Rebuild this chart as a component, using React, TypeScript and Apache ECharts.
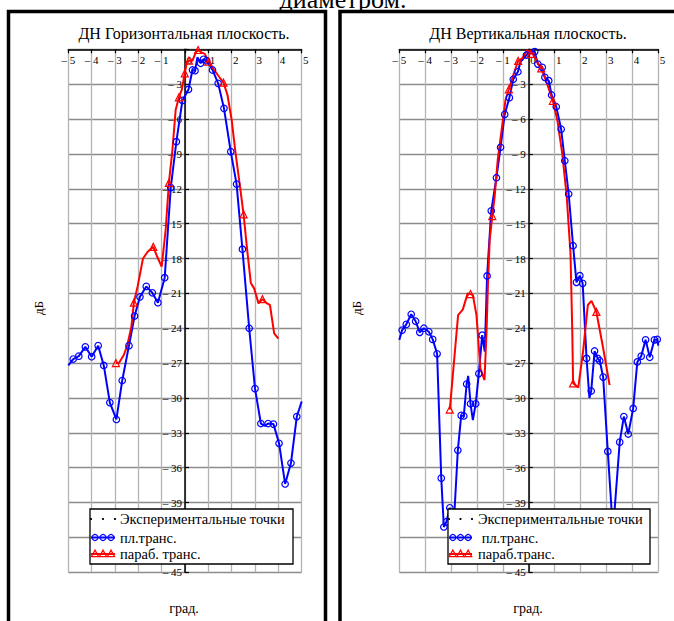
import React, { useEffect, useRef } from 'react';
import * as echarts from 'echarts';

// axis ranges
const X_MIN = -5;
const X_MAX = 5;
const X_STEP = 1;
const Y_MIN = -45;
const Y_MAX = 0;
const Y_STEP = 3;
// tick values whose labels sit under the legend box in the reference
const HIDDEN_Y_LABELS = [0, -42];

// [angle (deg), level (dB), marker 1/0]
const horizPlane: number[][] = [
  [-5.0, -27.2, 0], [-4.79, -26.65, 1], [-4.55, -26.4, 1], [-4.27, -25.6, 1], [-4.0, -26.45, 1],
  [-3.72, -25.5, 1], [-3.48, -27.2, 1], [-3.22, -30.4, 1], [-2.94, -31.85, 1], [-2.69, -28.5, 1],
  [-2.4, -25.5, 1], [-2.16, -22.95, 1], [-1.93, -21.3, 1], [-1.66, -20.4, 1], [-1.4, -20.95, 1],
  [-1.16, -21.8, 1], [-0.87, -19.65, 1], [-0.61, -11.9, 1], [-0.37, -7.95, 1], [-0.11, -4.4, 1],
  [0.15, -3.45, 1], [0.32, -1.78, 1], [0.43, -1.84, 1], [0.53, -0.69, 0], [0.67, -1.2, 1],
  [0.79, -0.86, 1], [0.93, -0.98, 1], [1.18, -1.78, 1], [1.42, -2.93, 1], [1.67, -5.08, 1],
  [1.96, -8.8, 1], [2.21, -11.6, 1], [2.46, -17.2, 1], [2.75, -24.0, 1], [3.0, -29.2, 1],
  [3.25, -32.2, 1], [3.42, -32.4, 0], [3.56, -32.2, 1], [3.79, -32.25, 1], [4.03, -33.9, 1],
  [4.29, -37.4, 1], [4.54, -35.6, 1], [4.79, -31.6, 1], [5.0, -30.3, 0],
];

const horizParab: number[][] = [
  [-2.96, -27.0, 1], [-2.83, -27.0, 0], [-2.62, -26.3, 0], [-2.47, -25.45, 0], [-2.3, -23.9, 0],
  [-2.19, -21.8, 1], [-2.03, -20.4, 0], [-1.8, -18.0, 0], [-1.59, -17.4, 0], [-1.36, -17.0, 1],
  [-1.19, -17.85, 0], [-1.0, -18.7, 0], [-0.83, -15.55, 0], [-0.69, -11.5, 1], [-0.54, -8.67, 0],
  [-0.4, -5.22, 0], [-0.26, -4.13, 1], [-0.14, -3.5, 0], [-0.01, -2.07, 1], [0.07, -1.2, 0],
  [0.17, -0.98, 1], [0.32, -0.98, 0], [0.46, -0.29, 0], [0.56, -0.06, 1], [0.72, -0.29, 0],
  [0.85, -0.4, 0], [1.0, -1.07, 1], [1.25, -1.78, 0], [1.46, -2.36, 0], [1.65, -2.87, 1],
  [1.82, -3.93, 0], [2.0, -6.08, 0], [2.15, -8.67, 0], [2.32, -11.25, 0], [2.51, -14.2, 1],
  [2.65, -17.0, 0], [2.82, -20.1, 0], [2.96, -20.57, 0], [3.15, -21.86, 0], [3.32, -21.5, 1],
  [3.51, -21.86, 0], [3.64, -22.0, 0], [3.82, -24.44, 0], [4.0, -24.9, 0],
];

const vertPlane: number[][] = [
  [-5.0, -25.0, 0], [-4.89, -24.16, 1], [-4.73, -23.67, 1], [-4.54, -22.8, 1], [-4.37, -23.4, 1],
  [-4.21, -24.35, 1], [-4.05, -24.0, 1], [-3.86, -24.3, 1], [-3.71, -24.96, 1], [-3.54, -26.2, 1],
  [-3.38, -36.9, 1], [-3.28, -41.1, 1], [-3.18, -40.65, 1], [-3.05, -39.45, 1], [-2.9, -41.0, 0],
  [-2.74, -34.5, 1], [-2.61, -31.5, 1], [-2.51, -31.55, 1], [-2.4, -28.8, 1], [-2.34, -28.1, 0],
  [-2.25, -30.5, 1], [-2.16, -31.9, 0], [-2.05, -30.5, 1], [-1.93, -27.9, 1], [-1.8, -24.6, 1],
  [-1.7, -26.0, 0], [-1.61, -19.5, 1], [-1.45, -13.9, 1], [-1.25, -11.05, 1], [-1.09, -8.43, 1],
  [-0.93, -5.6, 1], [-0.75, -4.16, 1], [-0.6, -2.58, 1], [-0.42, -1.93, 1], [-0.32, -1.07, 0],
  [-0.09, -0.49, 1], [0.07, -0.12, 0], [0.23, -0.2, 1], [0.35, -1.27, 1], [0.52, -1.55, 1],
  [0.62, -2.41, 1], [0.77, -2.7, 1], [0.88, -3.93, 1], [1.06, -4.94, 1], [1.25, -6.88, 1],
  [1.39, -9.59, 1], [1.54, -12.45, 1], [1.71, -16.9, 1], [1.84, -20.05, 1], [1.97, -19.48, 1],
  [2.08, -20.14, 1], [2.23, -26.6, 1], [2.34, -30.0, 0], [2.41, -29.4, 1], [2.54, -25.96, 1],
  [2.66, -26.6, 1], [2.74, -26.8, 1], [2.87, -28.2, 1], [3.05, -34.6, 1], [3.25, -41.5, 0],
  [3.51, -33.8, 1], [3.67, -31.6, 1], [3.84, -33.1, 1], [4.03, -30.9, 1], [4.19, -26.9, 1],
  [4.34, -26.4, 1], [4.51, -25.0, 1], [4.67, -26.5, 1], [4.85, -25.0, 1], [4.96, -24.96, 1],
  [5.0, -25.5, 0],
];

const vertParab: number[][] = [
  [-3.05, -31.0, 1], [-2.73, -22.87, 0], [-2.55, -22.4, 0], [-2.36, -21.0, 0], [-2.25, -21.06, 1],
  [-2.16, -21.15, 0], [-2.02, -22.87, 0], [-1.87, -27.45, 0], [-1.71, -28.46, 0], [-1.63, -24.2, 0],
  [-1.58, -20.4, 0], [-1.51, -16.4, 0], [-1.41, -14.35, 1], [-1.32, -12.7, 0], [-1.2, -9.5, 0],
  [-1.05, -6.95, 0], [-0.9, -4.36, 0], [-0.77, -3.44, 1], [-0.62, -2.36, 0], [-0.41, -1.0, 1],
  [-0.25, -0.77, 0], [-0.06, -0.06, 0], [0.07, -0.4, 1], [0.17, -0.29, 0], [0.32, -1.07, 0],
  [0.48, -1.64, 1], [0.68, -2.79, 0], [0.93, -4.45, 1], [1.1, -6.08, 0], [1.29, -8.95, 0],
  [1.46, -12.54, 0], [1.61, -17.56, 0], [1.68, -24.4, 0], [1.71, -28.74, 1], [1.91, -29.1, 0],
  [2.1, -25.9, 0], [2.28, -22.0, 0], [2.42, -21.64, 0], [2.61, -22.6, 1], [2.87, -25.7, 0],
  [3.12, -28.9, 0],
];

const topText = 'диаметром.';
const titles = ['ДН Горизонтальная плоскость.', 'ДН Вертикальная плоскость.'];
const yName = 'дБ';
const xName = 'град.';
const legendLabels = [
  ['Экспериментальные точки', 'пл.транс.', 'параб. транс.'],
  ['Экспериментальные точки', ' пл.транс.', 'параб.транс.'],
];

const SERIF = '"Liberation Serif", "Times New Roman", serif';
const BLUE = '#0000ff';
const RED = '#ff0000';

function xLabel(v: number) {
  if (v < 0) return '\u2013\u00a0' + Math.abs(v);
  return '\u2002\u00a0' + v;
}
function yLabel(v: number) {
  return HIDDEN_Y_LABELS.includes(v) ? '' : '\u2013\u00a0' + Math.abs(v);
}

const grids = [
  { left: 68.3, top: 49.3, width: 233.4, height: 523 },
  { left: 399.3, top: 49.3, width: 259, height: 523 },
];

function makeX(gridIndex: number) {
  return {
    type: 'value', gridIndex, min: X_MIN, max: X_MAX, interval: X_STEP, position: 'top',
    axisLine: { show: true, onZero: false, lineStyle: { color: '#000', width: 1.5 } },
    axisTick: { show: true, inside: true, length: 4, lineStyle: { color: '#000', width: 1.2 } },
    axisLabel: { inside: true, margin: 5, formatter: xLabel, color: '#000', fontFamily: SERIF, fontSize: 11 },
    splitLine: { show: true, lineStyle: { color: '#b4b4b4', width: 1.3 } },
  };
}
function makeY(gridIndex: number) {
  // place the y axis on the x = 0 line of its grid
  const w = grids[gridIndex].width;
  const off = -w * (0 - X_MIN) / (X_MAX - X_MIN);
  return {
    type: 'value', gridIndex, min: Y_MIN, max: Y_MAX, interval: Y_STEP, position: 'left', offset: off,
    axisLine: { show: true, onZero: false, lineStyle: { color: '#000', width: 1.5 } },
    axisTick: { show: true, inside: true, length: 4, lineStyle: { color: '#000', width: 1.2 } },
    axisLabel: { margin: 3, formatter: yLabel, color: '#000', fontFamily: SERIF, fontSize: 11 },
    splitLine: { show: true, lineStyle: { color: '#8c8c8c', width: 1.3 } },
  };
}

function makeSeries(data: number[][], idx: number, color: string, sym: string) {
  return {
    type: 'line', xAxisIndex: idx, yAxisIndex: idx,
    data: data.map(([x, y, m]) => ({ value: [x, y], symbol: m ? sym : 'none' })),
    symbol: sym, symbolSize: sym === 'circle' ? 6.5 : 7, showSymbol: true,
    lineStyle: { color, width: 2 },
    itemStyle: { color: 'rgba(255,255,255,0)', borderColor: color, borderWidth: 1.2 },
    silent: true,
  };
}

function triPoints(cx: number, cy: number, s: number) {
  return [[cx, cy - s * 0.6], [cx + s * 0.55, cy + s * 0.4], [cx - s * 0.55, cy + s * 0.4]];
}

function legendGraphic(bx: number, bw: number, dots: number[], textX: number[], labels: string[]) {
  const by = 509, bh = 55;
  const rows = [519, 537.5, 554];
  const els: any[] = [];
  els.push({ type: 'rect', shape: { x: bx, y: by, width: bw, height: bh }, style: { fill: '#fff', stroke: '#000', lineWidth: 1.3 }, z: 100 });
  dots.forEach((dx) => els.push({ type: 'circle', shape: { cx: dx, cy: rows[0], r: 1.1 }, style: { fill: '#000' }, z: 101 }));
  const lx0 = dots[0], lx1 = dots[2];
  els.push({ type: 'line', shape: { x1: lx0, y1: rows[1], x2: lx1, y2: rows[1] }, style: { stroke: BLUE, lineWidth: 2 }, z: 101 });
  els.push({ type: 'line', shape: { x1: lx0, y1: rows[2], x2: lx1, y2: rows[2] }, style: { stroke: RED, lineWidth: 2 }, z: 101 });
  const step = (lx1 - lx0) / 3;
  for (let i = 0; i < 3; i++) {
    const cx = lx0 + step * (i + 0.5);
    els.push({ type: 'circle', shape: { cx, cy: rows[1], r: 3 }, style: { fill: 'none', stroke: BLUE, lineWidth: 1.2 }, z: 102 });
    els.push({ type: 'polygon', shape: { points: triPoints(cx, rows[2], 6.5) }, style: { fill: 'none', stroke: RED, lineWidth: 1.2 }, z: 102 });
  }
  labels.forEach((t, i) => els.push({
    type: 'text', x: textX[i], y: rows[i],
    style: { text: t, fill: '#000', font: `14.5px ${SERIF}`, textAlign: 'left', textVerticalAlign: 'middle' }, z: 102,
  }));
  return els;
}

export default function App() {
  const ref = useRef<HTMLDivElement>(null);
  useEffect(() => {
    if (!ref.current) return;
    const chart = echarts.init(ref.current, null, { renderer: 'svg' });
    const textEl = (t: string, x: number, y: number, size: number, rot = 0) => ({
      type: 'text', x, y, rotation: rot,
      style: { text: t, fill: '#000', font: `${size}px ${SERIF}`, textAlign: 'center', textVerticalAlign: 'middle' }, z: 100,
    });
    const graphic: any[] = [
      textEl(topText, 343, -0.5, 26),
      { type: 'rect', shape: { x: 8.5, y: 11.5, width: 317, height: 640 }, style: { fill: 'none', stroke: '#000', lineWidth: 3.5 }, z: 100 },
      { type: 'rect', shape: { x: 340, y: 11.5, width: 360, height: 640 }, style: { fill: 'none', stroke: '#000', lineWidth: 3.5 }, z: 100 },
      textEl(titles[0], 184, 33, 16),
      textEl(titles[1], 528, 33, 16),
      textEl(yName, 38, 308, 13, Math.PI / 2),
      textEl(yName, 356, 308, 13, Math.PI / 2),
      textEl(xName, 184, 608, 14),
      textEl(xName, 528, 608, 14),
      ...legendGraphic(90, 203, [91, 103, 115], [120, 120, 120], legendLabels[0]),
      ...legendGraphic(448, 202, [449, 460.5, 472], [478, 478, 478], legendLabels[1]),
    ];
    chart.setOption({
      animation: false,
      backgroundColor: '#fff',
      grid: grids,
      xAxis: [makeX(0), makeX(1)],
      yAxis: [makeY(0), makeY(1)],
      series: [
        makeSeries(horizPlane, 0, BLUE, 'circle'),
        makeSeries(horizParab, 0, RED, 'triangle'),
        makeSeries(vertPlane, 1, BLUE, 'circle'),
        makeSeries(vertParab, 1, RED, 'triangle'),
      ],
      graphic,
    });
    return () => chart.dispose();
  }, []);
  return <div ref={ref} style={{ position: 'absolute', left: 0, top: 0, width: 674, height: 621 }} />;
}
